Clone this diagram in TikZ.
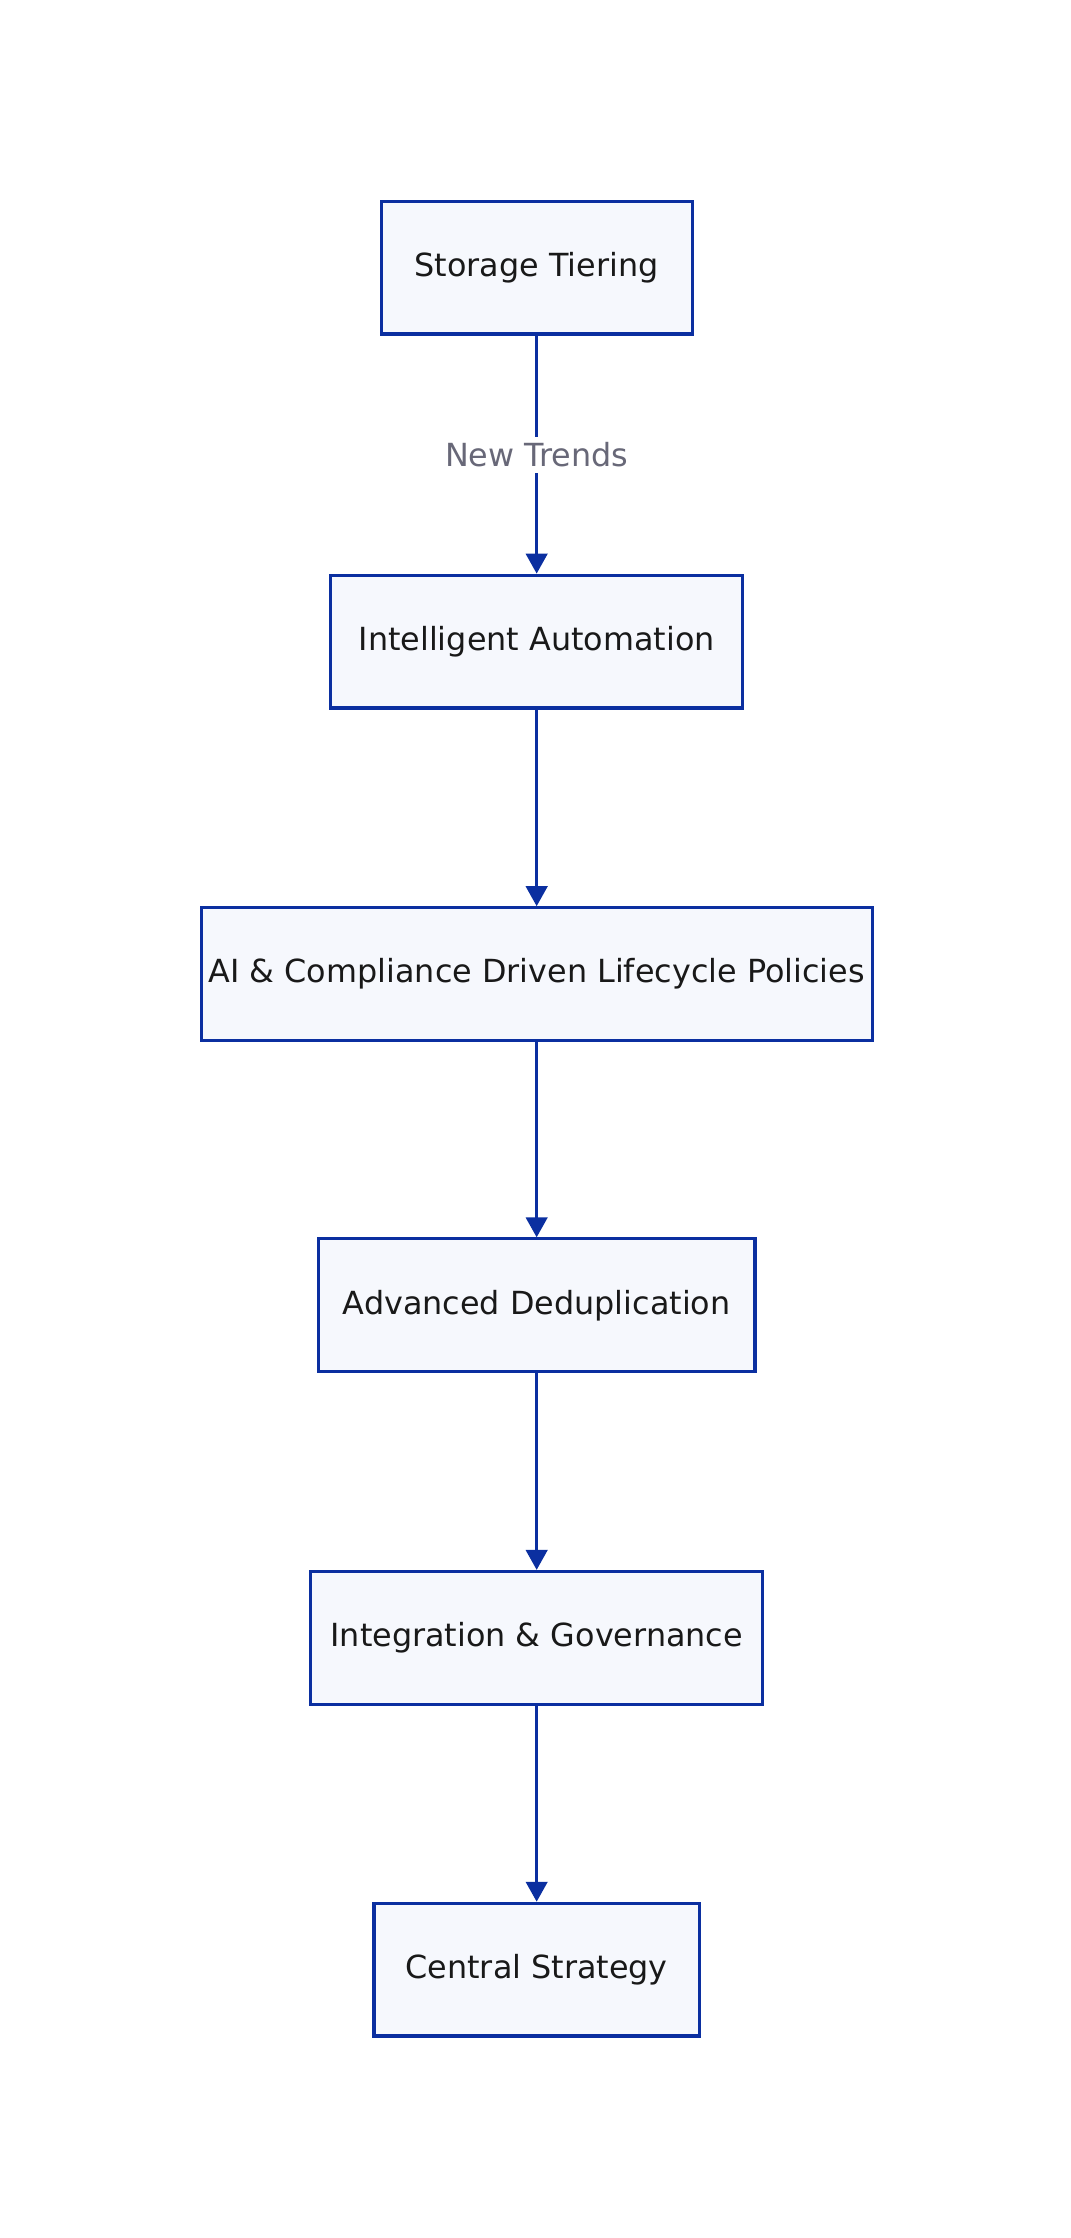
\documentclass[tikz,border=0pt]{standalone}
\usepackage{fontspec}
\setmainfont{DejaVu Sans}
\usetikzlibrary{arrows.meta}
\definecolor{edgeblue}{HTML}{0B2FA0}
\definecolor{boxfill}{HTML}{F6F8FD}
\definecolor{labelgray}{HTML}{686878}
\tikzset{
  stage/.style={draw=edgeblue, fill=boxfill, line width=2.2pt, minimum height=93pt,
    inner sep=0pt, font=\fontsize{22.3}{26}\selectfont, text=black!90},
  flow/.style={draw=edgeblue, line width=2.2pt, -{Triangle[length=14pt,width=15pt]}},
  tag/.style={fill=white, text=labelgray, font=\fontsize{22.3}{26}\selectfont, inner sep=4pt}
}
\begin{document}
\begin{tikzpicture}[x=1pt,y=-1pt]
  \useasboundingbox (0,0) rectangle (750,1568);
  % stages
  \node[stage, minimum width=218pt] (tier) at (376,187.5) {Storage Tiering};
  \node[stage, minimum width=289pt] (auto) at (376,449.5) {Intelligent Automation};
  \node[stage, minimum width=470pt] (policy) at (376,682.5) {AI \& Compliance Driven Lifecycle Policies};
  \node[stage, minimum width=306pt] (dedup) at (376,914.5) {Advanced Deduplication};
  \node[stage, minimum width=317pt] (gov) at (376,1147.5) {Integration \& Governance};
  \node[stage, minimum width=228pt] (central) at (376,1380) {Central Strategy};
  % connectors
  \draw[flow] (tier) -- node[tag] {New Trends} (auto);
  \draw[flow] (auto) -- (policy);
  \draw[flow] (policy) -- (dedup);
  \draw[flow] (dedup) -- (gov);
  \draw[flow] (gov) -- (central);
\end{tikzpicture}
\end{document}
